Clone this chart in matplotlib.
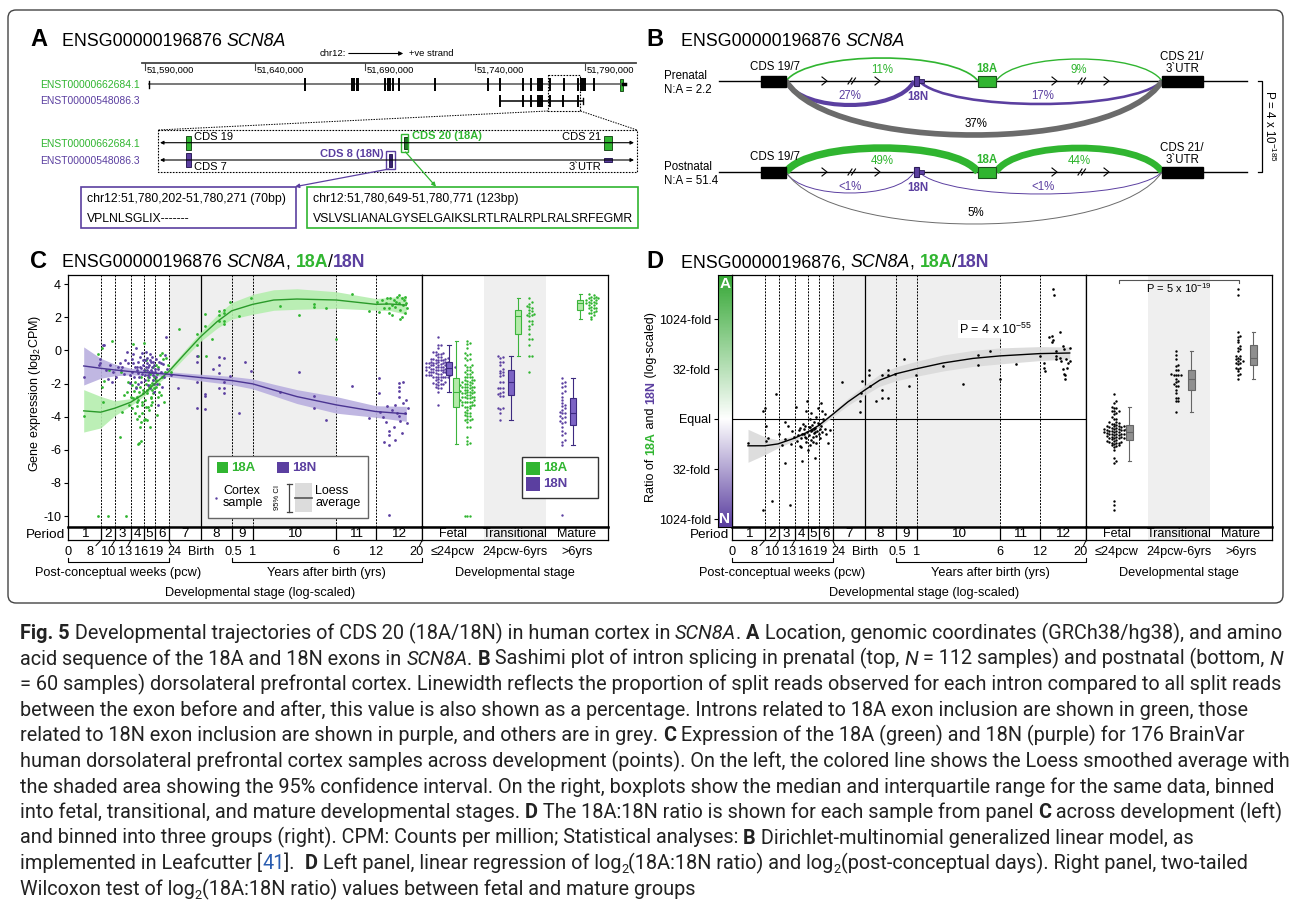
import numpy as np
import matplotlib
matplotlib.use('Agg')
import matplotlib.pyplot as plt
from matplotlib.patches import Rectangle, FancyBboxPatch, PathPatch
from matplotlib.path import Path
from matplotlib.colors import LinearSegmentedColormap, TwoSlopeNorm
from matplotlib.transforms import blended_transform_factory as blend

plt.rcParams['font.family'] = ['Liberation Sans', 'DejaVu Sans']
plt.rcParams['mathtext.fontset'] = 'custom'
plt.rcParams['mathtext.rm'] = 'Liberation Sans'
plt.rcParams['mathtext.it'] = 'Liberation Sans:italic'
plt.rcParams['mathtext.bf'] = 'Liberation Sans:bold'
CAPTION_FONT = ['Liberation Sans Narrow', 'Roboto', 'DejaVu Sans']

W, H = 1290, 908
GREEN = '#30b530'
GREEN_DK = '#23782a'
GREEN_BOX = '#b4eaa9'
PURPLE = '#5b3fa0'
PURPLE_BOX = '#7c64c4'
GREY_ARC = '#6b6b6b'
SHADE = '#efefef'

# ---------------- data ----------------
gene_id = 'ENSG00000196876'
gene = 'SCN8A'
tx_names = ['ENST00000662684.1', 'ENST00000548086.3']

# panel A, chr12 positions (bp)
ruler_ticks = [51590000, 51640000, 51690000, 51740000, 51790000]
tx1_exons = [51662700, 51684100, 51685000, 51686400, 51686800, 51699100, 51700500,
             51701400, 51702700, 51705500, 51721800, 51745900, 51751400, 51761800,
             51765500, 51768600, 51769500, 51770500, 51774100, 51780650, 51786800,
             51788200, 51789100, 51790000, 51794100]
tx1_span = (51591800, 51806300)
tx1_last_exon = (51805800, 51807300)
tx2_exons = [51751400, 51761800, 51765500, 51768600, 51769500, 51770500, 51774100,
             51780200, 51786800]
tx2_span = (51751400, 51789000)
zoom_range = (51773200, 51787700)
cds19 = (51774050, 51774200)
exon_18A = (51780649, 51780771)
exon_18N = (51780202, 51780271)
cds21 = (51786700, 51786950)
seq_18N = ['chr12:51,780,202-51,780,271 (70bp)', 'VPLNLSGLIX-------']
seq_18A = ['chr12:51,780,649-51,780,771 (123bp)', 'VSLVSLIANALGYSELGAIKSLRTLRALRPLRALSRFEGMR']

# panel B, % of split reads per intron: 19-18A, 18A-21, 19-18N, 18N-21, 19-21
prenatal_pct = [11, 9, 27, 17, 37]
prenatal_lbl = ['11%', '9%', '27%', '17%', '37%']
postnatal_pct = [49, 44, 0.5, 0.5, 5]
postnatal_lbl = ['49%', '44%', '<1%', '<1%', '5%']
na_ratio = ['2.2', '51.4']

# developmental axis (log-scaled stage units)
period_edges = [0, 32.7, 46.7, 62.7, 75.7, 86.7, 100.7, 132.7, 163.7, 184.7, 268.3, 307.7, 354]
periods = [str(i) for i in range(1, 13)]
age_tick_pos = [0, 22.3, 40, 56.7, 73, 88, 106.3, 132.7, 165.7, 184.7, 267.7, 308.3, 348.7]
age_tick_lbl = ['0', '8', '10', '13', '16', '19', '24', 'Birth', '0.5', '1', '6', '12', '20']
stages = ['Fetal', 'Transitional', 'Mature']
stage_spans = ['\u226424pcw', '24pcw-6yrs', '>6yrs']

# panel C, 18A expression (log2 CPM)
ageA = [16, 30, 30.3, 33.6, 34, 34.6, 36.3, 40, 43.6, 41,
        53, 52, 53.6, 57.7, 58.6, 61.3, 56, 60,
        62.6, 64.6, 66, 67, 68.6, 68.6, 70, 69.3, 71, 71.6, 71.3, 70.3, 73.3, 73.6, 74.3, 74.6,
        75, 64, 66.5, 72, 65, 73, 67.5, 69, 72.5, 70.5, 63.5, 74,
        75.9, 76, 77, 79, 78, 80.3, 82, 83, 83.6, 84.3, 85.3, 86, 76.5, 77.5, 78.5, 79.5, 80.5,
        81.5, 82.5, 84, 85, 78, 81, 86, 77, 79, 80, 82, 83, 84.8,
        88.6, 89.6, 92, 93.6, 92.6, 96, 98, 87.5, 88, 89, 90, 91, 94, 97, 88, 95, 99.5, 90.5,
        103, 110.7, 128.5, 128.5, 129.5,
        137.3, 137.3, 137.6, 144.3, 151, 151, 151, 156, 156, 156, 156, 162,
        171, 183, 211.7, 231, 246, 246, 258, 267.7,
        284, 301,
        309, 310.7, 314, 315.7, 318.3, 320.7, 320.7, 322.3, 324, 324, 325.7, 327.3, 328.3, 329,
        330.7, 330.7, 331.7, 332.3, 334, 335, 335.7, 336.7, 337.3, 338.3, 339, 334, 319]
exprA = [-3.95, -10, -0.22, 0.12, -2.18, -3.09, -1.82, -10, 0.59, -1.2,
         -1.32, -5.2, -3.69, -10, -2.54, -3.29, -2.7, -1.9,
         -2.83, 0.39, -2.48, -3.79, -3.35, -2.79, -2.99, -4.15, -3.99, -4.6, -5.6, -5.64, -5.44,
         -3.29, -3.09, -2.59, -2.39, -3.5, -1.9, -2.2, -2.9, -4.3, -2.2, -3.1, -1.6, -2.5, -2.1, -3.8,
         0.47, -4.2, -4.15, -4.2, -3.4, -3.4, -4.63, -2.9, -2.39, -1.99, -1.79, -1.59, -1.2, -2.0,
         -2.6, -1.6, -2.2, -1.4, -2.8, -3.1, -1.0, -0.6, -3.6, -2.3, -3.0, -2.4, -1.8, -2.1, -3.3, -2.6,
         -3.89, -2.79, -0.28, -0.18, -2.71, -3.09, -0.48, -1.8, -2.2, -1.4, -1.0, -2.0, -1.6, -1.3,
         -0.9, -0.5, -0.9, -2.5,
         -1.3, 1.29, 0.99, 0.3, -0.35,
         2.19, 1.47, -0.32, 0.67, 2.35, 2.15, 1.75, 2.45, 2.25, 1.75, 1.6, 2.94,
         2.07, 3.14, 2.67, 2.13, 2.8, 2.6, 2.55, 0.67,
         3.38, 2.37,
         2.94, 2.33, 3.04, 2.53, 2.84, 2.53, 2.23, 3.14, 2.13, 2.73, 3.04, 2.63, 2.94, 3.24,
         2.84, 3.34, 1.87, 2.43, 3.14, 2.73, 3.04, 2.23, 3.24, 2.84, 2.53, 2.03, 3.14]

# panel C, 18N expression (log2 CPM)
ageN = [16, 31, 31.5, 32.3,
        35.3, 36.3, 40.3, 43.6, 38, 42, 45,
        52, 53.6, 53, 58.6, 60.3, 62, 62, 56, 50, 48, 57,
        65.3, 67, 67.6, 68.6, 69.6, 70.3, 71, 72, 73, 73.6, 75, 74.6, 66, 70, 72.5, 64, 63.5, 68,
        71.5, 74, 65, 69,
        76, 76.6, 77, 78.6, 79, 80, 80.6, 81.3, 82.3, 83, 83.6, 84.3, 85.3, 86.3, 86.6, 84.5,
        77.5, 79.5, 81.6, 85.6, 78, 82, 77, 80, 83, 85, 79, 81, 84, 86,
        87.3, 88.3, 90.3, 91, 92.6, 95.3, 98, 89, 93, 96, 99, 88, 94, 90, 97,
        103, 110.3, 128.6, 128.6, 129, 129,
        137.3, 137.3, 137.3, 144.6, 151, 156, 151, 151, 156, 156, 151, 156, 162.3,
        171.3, 177, 183, 212, 231, 246, 246, 258,
        284, 301,
        311, 311, 319, 320.7, 320.7, 315.7, 320.7, 327, 320.7, 331, 331, 331, 331, 335, 338, 331,
        329, 324, 332, 327, 335, 337, 312, 315, 340, 318, 326, 334, 339]
exprN = [-1.58, -0.9, -0.77, -0.54,
         0.33, 0.3, -1.74, -1.92, -1.2, -0.9, -1.3,
         -0.78, -0.98, -1.18, -0.08, -0.74, -1.48, -1.98, -1.4, -1.0, -1.6, -0.6,
         -0.77, -0.98, 0.16, -1.18, -0.68, -1.38, -1.58, -0.38, -1.08, -0.18, -0.58, -0.88, -1.6,
         -2.0, -1.9, -1.3, -0.5, -2.3, -1.0, -1.4, -0.2, -1.0,
         -1.18, -1.48, -1.78, -0.48, -0.78, -1.03, -1.28, -1.58, -0.58, -0.73, -0.98, -1.33, -0.68,
         -0.88, -1.12, -1.8, -1.0, -2.1, -2.3, -2.0, -0.1, -0.2, -0.6, -1.5, -1.2, -1.5, -1.2, -0.9,
         -0.4, -2.5,
         -1.28, -1.58, -3.27, -0.7, -0.78, -0.8, 0.79, -2.0, -1.3, -1.6, -1.1, -0.5, -2.2, -1.1, -0.3,
         -1.5, -2.28, -0.34, -0.72, -1.88, -3.49,
         -2.63, -2.75, -3.53, -1.12, -0.38, -0.48, -0.88, -1.38, -1.88, -2.29, -2.29, -2.55, -1.54,
         -3.79, -0.68, -1.22, -2.53, -1.28, -2.73, -3.49, -4.19,
         -2.12, -4.09,
         -1.68, -2.55, -3.35, -4.84, -5.1, -5.5, -5.7, -5.4, -9.94, -1.98, -2.18, -2.48, -2.79,
         -1.88, -2.99, -3.99, -3.8, -3.59, -4.29, -3.29, -3.19, -3.79, -3.7, -4.0, -3.5, -4.3,
         -4.6, -5.0, -4.4]

# panel C loess fits (value, 95% CI half-width)
loessA_x = [15.7, 32.7, 46.7, 62.7, 75.7, 86.7, 100.7, 115.7, 132.7, 149, 163.7, 184.7, 205.7,
            229, 268.3, 307.7, 322, 338.3]
loessA_y = [-3.65, -3.73, -3.49, -3.13, -2.63, -2.02, -1.28, -0.28, 0.83, 1.73, 2.39, 2.78,
            3.04, 3.10, 3.04, 2.78, 2.80, 2.73]
loessA_ci = [1.28, 0.95, 0.45, 0.22, 0.15, 0.15, 0.18, 0.22, 0.28, 0.4, 0.5, 0.6, 0.62, 0.62,
             0.5, 0.35, 0.4, 0.55]
loessN_x = [15.7, 32.7, 46.7, 62.7, 86.7, 100.7, 132.7, 163.7, 184.7, 205.7, 229, 268.3,
            307.7, 338.3]
loessN_y = [-0.94, -1.08, -1.18, -1.28, -1.38, -1.44, -1.64, -1.82, -2.02, -2.39, -2.79,
            -3.29, -3.69, -3.83]
loessN_ci = [1.15, 0.6, 0.35, 0.2, 0.15, 0.15, 0.2, 0.25, 0.3, 0.35, 0.42, 0.5, 0.35, 0.45]

# panel D, log2(18A:18N)
ageR = [16, 31, 32.7, 33.7, 34.3, 36, 31, 40, 43.7, 47, 50, 52.7, 53.3, 52.7, 56, 57.7, 59.3, 60, 62,
        64.3, 64.5, 66, 67, 67.7, 68, 69, 69.3, 70, 70.3, 71, 71.7, 72, 72.7, 73, 73.7, 74, 74.3,
        75, 75.3,
        76, 76.5, 77, 77.7, 78, 78.3, 78.5, 79, 79.3, 80, 80.3, 80.5, 81, 81.5, 81.7, 82, 82.7, 83,
        83.3, 83.7, 84, 84.3, 85, 85.5, 86, 86.5,
        87, 87.7, 88, 89, 89.3, 90, 90.3, 91, 92.7, 92.7, 94.3, 96, 97.7,
        110.3, 127.7, 128.3, 129.3, 130, 137, 137, 137.7, 144.3, 150.3, 150.3, 150.3, 156, 156, 156,
        162.7, 171.7, 176.7, 183.7, 211, 231, 246, 246, 257.7, 267.7,
        283.7, 307.7, 311.7, 311.7, 312.7, 317, 320.3, 321, 320.3, 321, 322, 323.7, 324.3, 324.3,
        327.7, 328.3, 329.3, 331, 331.7, 331, 331.7, 332.7, 332.7, 334.3, 335.3, 336, 337.7, 337.7]
ratio = [-2.36, 0.81, 1.07, -0.74, -2.16, -1.94, -9.1, -8.2, 2.46, -1.5, -2.6, -0.32, -2.04, -4.37,
         -0.7, -8.6, -2.49, -1.2, -1.8,
         1.2, -2.2, -1.6, -1.07, -2.68, -0.9, -1.9, -2.81, -1.5, -4.21, -0.49, -1.46, -1.0, -1.78,
         -0.7, -2.27, -1.9, 0.81, -1.3, 1.78,
         -3.07, -0.8, -1.6, -0.01, -2.6, -0.82, -2.1, -1.2, 0.64, -0.6, -1.14, -2.3, -1.78, -1.0,
         -0.33, -1.4, -3.88, -0.9, -1.3, -2.36, -1.7, 0.16, -1.2, -0.4, 1.13, -1.5,
         -0.49, -0.97, -1.9, -0.7, 1.62, -1.3, 0.81, 0.0, 0.49, -0.97, -1.46, -2.36, -1.13,
         3.66, 0.75, 1.78, 2.59, 3.79, 4.95, 4.37, 3.33, 1.85, 4.4, 2.94, 2.1, 4.95, 4.37, 2.1,
         4.53, 5.99, 3.33, 4.43, 5.27, 3.49, 6.38, 5.44, 6.84, 3.98,
         5.53, 6.31, 5.6, 5.08, 4.76, 8.25, 8.32, 7.93, 7.67, 13.0, 12.36, 6.8, 6.31, 5.99, 8.74,
         6.15, 5.83, 7.28, 6.96, 5.02, 4.53, 4.37, 4.05, 5.99, 5.11, 5.6, 7.12, 5.83]
loessR_x = [16, 32.7, 46, 62.7, 76, 86.7, 101, 116, 133, 147.7, 164.3, 184.3, 211, 241, 268,
            307.7, 337.7]
loessR_y = [-2.68, -2.68, -2.49, -1.91, -1.29, -0.65, 0.49, 1.72, 2.91, 3.88, 4.53, 5.02, 5.6,
            6.06, 6.31, 6.54, 6.6]
loessR_ci = [1.65, 0.9, 0.4, 0.25, 0.2, 0.2, 0.25, 0.35, 0.5, 0.6, 0.7, 0.75, 0.8, 0.8, 0.8,
             0.7, 0.6]

# ---------------- figure ----------------
fig = plt.figure(figsize=(W / 100, H / 100), dpi=100)
R = fig.canvas.get_renderer()


def ax_at(x0, y0, x1, y1, **kw):
    return fig.add_axes([x0 / W, 1 - y1 / H, (x1 - x0) / W, (y1 - y0) / H], **kw)


ov = fig.add_axes([0, 0, 1, 1], zorder=10)
ov.set_xlim(0, W)
ov.set_ylim(H, 0)
ov.axis('off')


def measure(s, **st):
    t1 = ov.text(0, 0, '|' + s + '|', **st)
    t2 = ov.text(0, 0, '||', **st)
    w = t1.get_window_extent(R).width - t2.get_window_extent(R).width
    t1.remove()
    t2.remove()
    return w


def runs(x, y, parts, rot=0, align='left', **base):
    styles = []
    for s, st in parts:
        st = dict(st)
        dy = st.pop('dy', 0)
        styles.append((s, {**base, **st}, dy))
    widths = [measure(s, **st) for s, st, _ in styles]
    total = sum(widths)
    shift = {'left': 0, 'center': total / 2, 'right': total}[align]
    pos = -shift
    for (s, st, dy), w in zip(styles, widths):
        if rot == 0:
            tx, ty = x + pos, y + dy
        else:
            tx, ty = x + dy, y - pos
        ov.text(tx, ty, s, rotation=rot, rotation_mode='anchor', ha='left', va='baseline', **st)
        pos += w


IT = {'style': 'italic'}
BG = {'weight': 'bold', 'color': GREEN}
BP = {'weight': 'bold', 'color': PURPLE}

# outer frame
ov.add_patch(FancyBboxPatch((8, 10), 1275, 593, boxstyle='round,pad=0,rounding_size=8',
                            fc='none', ec='#444444', lw=1))

# panel letters and titles
for letter, x, y in [('A', 30, 46.5), ('B', 646, 46.5), ('C', 30, 267.5), ('D', 646, 267.5)]:
    ov.text(x, y, letter, fontsize=17, weight='bold', va='baseline')
runs(62, 46, [(gene_id + ' ', {}), (gene, IT)], fontsize=12.8)
runs(681, 46, [(gene_id + ' ', {}), (gene, IT)], fontsize=12.8)
runs(62, 267, [(gene_id + ' ', {}), (gene, IT), (', ', {}), ('18A', BG), ('/', {}), ('18N', BP)],
     fontsize=12.8)
runs(681, 267, [(gene_id + ', ', {}), (gene, IT), (', ', {}), ('18A', BG), ('/', {}), ('18N', BP)],
     fontsize=12.8)

# ---------------- panel A ----------------
BP_PX = 50000 / 110
axA = ax_at(40, 40, 640, 125)
axA.set_xlim(ruler_ticks[0] - 105 * BP_PX, ruler_ticks[0] + 495 * BP_PX)
axA.set_ylim(125, 40)
axA.axis('off')
axA.plot([ruler_ticks[0] - 3 * BP_PX, ruler_ticks[-1] + 51 * BP_PX], [63.3, 63.3], color='#444444', lw=1.3)
for t in ruler_ticks:
    axA.plot([t, t], [63.3, 69.5], color='#444444', lw=0.8)
    axA.text(t + 2 * BP_PX, 72.5, f'{t:,}', fontsize=6.8, va='baseline')
ov.text(320, 53.5, 'chr12:', fontsize=6.8, va='center')
ov.annotate('', xy=(406, 53.5), xytext=(346, 53.5),
            arrowprops=dict(arrowstyle='-|>', color='k', lw=0.8, mutation_scale=6))
ov.text(409, 53.5, '+ve strand', fontsize=6.8, va='center')
ov.text(40, 84.5, tx_names[0], color=GREEN, fontsize=7.5, va='center')
ov.text(40, 101, tx_names[1], color=PURPLE, fontsize=7.5, va='center')

axA.plot(tx1_span, [84.3, 84.3], color='#555555', lw=1.1)
axA.plot([tx1_span[0]] * 2, [81, 88], color='k', lw=1)
axA.vlines(tx1_exons, 78.3, 91.3, color='k', lw=1.4)
axA.add_patch(Rectangle((tx1_last_exon[0], 78.5), tx1_last_exon[1] - tx1_last_exon[0], 12.5,
                        fc=GREEN, ec='#1d4f1d', lw=0.7))
axA.plot([tx1_last_exon[1], tx1_last_exon[1] + 2 * BP_PX], [84.3, 84.3], color='k', lw=2.5)
axA.plot(tx2_span, [100.7, 100.7], color='k', lw=1.1)
axA.vlines(tx2_exons, 95, 107, color='k', lw=1.4)
axA.plot([tx2_span[1]] * 2, [98, 103.5], color='k', lw=1)
axA.add_patch(Rectangle((zoom_range[0], 75), zoom_range[1] - zoom_range[0], 36, fc='none',
                        ec='k', lw=0.8, ls=(0, (1.5, 1.2))))

# zoomed view
ZL, ZR, ZT, ZB = 158, 637, 130, 172
ov.add_patch(Rectangle((ZL, ZT), ZR - ZL, ZB - ZT, fc='none', ec='k', lw=0.8, ls=(0, (1.5, 1.2))))
ov.plot([548, ZL], [111, ZT], color='k', lw=0.7, ls=(0, (1.5, 1.2)))
ov.plot([580.5, ZR], [111, ZT], color='k', lw=0.7, ls=(0, (1.5, 1.2)))
axZ = ax_at(ZL, ZT, ZR, ZB)
axZ.set_xlim(*zoom_range)
axZ.set_ylim(ZB, ZT)
axZ.axis('off')
for yy in (142.7, 160):
    ov.annotate('', xy=(634, yy), xytext=(160, yy),
                arrowprops=dict(arrowstyle='<|-|>', color='k', lw=0.8, mutation_scale=5,
                                shrinkA=0, shrinkB=0))
ov.text(40, 144, tx_names[0], color=GREEN, fontsize=7.5, va='center')
ov.text(40, 161.5, tx_names[1], color=PURPLE, fontsize=7.5, va='center')


def zexon(span, y0, y1, fc, ec):
    axZ.add_patch(Rectangle((span[0], y0), span[1] - span[0], y1 - y0, fc=fc, ec=ec, lw=0.7, zorder=3))


zexon(cds19, 135.7, 150, GREEN, '#1d4f1d')
zexon(cds21, 135.7, 150, GREEN, '#1d4f1d')
zexon(exon_18A, 136.5, 149, GREEN_DK, '#123d12')
zexon(cds19, 152.7, 167.3, PURPLE, '#2d1d5a')
zexon(exon_18N, 153.5, 166.5, '#3a2470', '#2d1d5a')
zexon(cds21, 157.7, 162.3, PURPLE, '#2d1d5a')
ov.add_patch(Rectangle((400.8, 133.5), 7.5, 18.5, fc='none', ec=GREEN, lw=1))
ov.add_patch(Rectangle((385.7, 151), 9.1, 18, fc='none', ec=PURPLE, lw=1))
ov.text(193.5, 136.7, 'CDS 19', fontsize=8, va='center')
ov.text(193.5, 166.7, 'CDS 7', fontsize=8, va='center')
ov.text(411.5, 135.7, 'CDS 20 (18A)', fontsize=8, va='center', **BG)
ov.text(383.5, 154.3, 'CDS 8 (18N)', fontsize=8, va='center', ha='right', **BP)
ov.text(601, 136.7, 'CDS 21', fontsize=8, va='center', ha='right')
ov.text(601, 166.7, '3`UTR', fontsize=8, va='center', ha='right')
ov.annotate('', xy=(295, 186.7), xytext=(389, 169),
            arrowprops=dict(arrowstyle='-|>', color=PURPLE, lw=0.9, mutation_scale=6, shrinkA=0, shrinkB=0))
ov.annotate('', xy=(436, 186.7), xytext=(405.5, 152),
            arrowprops=dict(arrowstyle='-|>', color=GREEN, lw=0.9, mutation_scale=6, shrinkA=0, shrinkB=0))
for (x0, x1), col, lines in [((81, 296), PURPLE, seq_18N), ((307, 638), GREEN, seq_18A)]:
    ov.add_patch(Rectangle((x0, 186.7), x1 - x0, 41.6, fc='white', ec=col, lw=1.2))
    ov.text(x0 + 6, 199, lines[0], fontsize=8.8, va='center')
    ov.text(x0 + 6, 219, lines[1], fontsize=8.8, va='center')

# ---------------- panel B ----------------
B_X0, B_X1 = 719, 1247
E19, E18N, E18A, E21 = (761, 786), (914, 919), (978, 996), (1162, 1203)


def arc(x0, x1, y, h, color, lw):
    k = 4 / 3 * h
    d = 0.12 * (x1 - x0)
    verts = [(x0, y), (x0 + d, y + k), (x1 - d, y + k), (x1, y)]
    ov.add_patch(PathPatch(Path(verts, [Path.MOVETO, Path.CURVE4, Path.CURVE4, Path.CURVE4]),
                           fc='none', ec=color, lw=lw, capstyle='butt', zorder=2))


def chevron(x, y):
    ov.plot([x - 3, x + 2, x - 3], [y - 4, y, y + 4], color='k', lw=0.8, zorder=3)


def breakmark(x, y):
    for dx in (-2, 1.5):
        ov.plot([x + dx - 2, x + dx + 2], [y + 3, y - 3], color='k', lw=0.8, zorder=3)


for y, pct, lbl, state, na, hs in [
        (81, prenatal_pct, prenatal_lbl, 'Prenatal', na_ratio[0], (23, 22, 24, 23, 54)),
        (172, postnatal_pct, postnatal_lbl, 'Postnatal', na_ratio[1], (24, 24, 21, 22, 52))]:
    ov.text(664, y - 2, state, fontsize=8.3, va='baseline')
    ov.text(664, y + 12, 'N:A = ' + na, fontsize=8.3, va='baseline')
    ov.plot([B_X0, B_X1], [y, y], color='k', lw=1, zorder=1)
    lws = [max(0.7, p * 0.11) for p in pct]
    arc(E19[1], E18A[0], y, -hs[0], GREEN, lws[0])
    arc(E18A[1], E21[0], y, -hs[1], GREEN, lws[1])
    arc(E19[1], E18N[0], y, hs[2], PURPLE, lws[2])
    arc(E18N[1], E21[0], y, hs[3], PURPLE, lws[3])
    arc(E19[1], E21[0], y, hs[4], GREY_ARC, lws[4])
    for x in (825, 878, 1055, 1107):
        chevron(x, y)
    breakmark(852, y)
    breakmark(1082, y)
    ov.add_patch(Rectangle((E19[0], y - 5.5), E19[1] - E19[0], 11, fc='k', ec='k', zorder=4))
    ov.add_patch(Rectangle((E21[0], y - 5.5), E21[1] - E21[0], 11, fc='k', ec='k', zorder=4))
    ov.add_patch(Rectangle((E18A[0], y - 5.5), E18A[1] - E18A[0], 11, fc=GREEN, ec='#1d4f1d', lw=0.8, zorder=4))
    ov.add_patch(Rectangle((E18N[0], y - 5), E18N[1] - E18N[0], 10, fc=PURPLE, ec='#2d1d5a', lw=0.8, zorder=4))
    ov.add_patch(Rectangle((E18N[1], y - 2), 5, 4, fc=PURPLE, ec='#2d1d5a', lw=0.6, zorder=4))
    ov.text(775, y - 11.5, 'CDS 19/7', fontsize=8.3, ha='center', va='baseline')
    ov.text(1182, y - 21, 'CDS 21/', fontsize=8.3, ha='center', va='baseline')
    ov.text(1182, y - 8.7, '3`UTR', fontsize=8.3, ha='center', va='baseline')
    ov.text(987, y - 9, '18A', fontsize=8.3, ha='center', va='baseline', **BG)
    ov.text(918, y + 19, '18N', fontsize=8.3, ha='center', va='baseline', **BP)
    ov.text(882, y - 8, lbl[0], fontsize=8.3, ha='center', va='baseline', color=GREEN)
    ov.text(1079, y - 8, lbl[1], fontsize=8.3, ha='center', va='baseline', color=GREEN)
    ov.text(850, y + 18, lbl[2], fontsize=8.3, ha='center', va='baseline', color=PURPLE)
    ov.text(1043, y + 18, lbl[3], fontsize=8.3, ha='center', va='baseline', color=PURPLE)
    ov.text(976, y + hs[4] - 8, lbl[4], fontsize=8.3, ha='center', va='baseline')
ov.plot([1257.5, 1262.3, 1262.3, 1257.5], [81, 81, 172, 172], color='k', lw=0.9)
ov.text(1270, 126.5, r'P = 4 x 10$^{-185}$', rotation=-90, fontsize=8.3, ha='center', va='center')


# ---------------- panels C and D: shared developmental layout ----------------
def swarm(vals, center, upx, xpx, d=2.4):
    vals = np.asarray(vals, float)
    xs = np.empty(len(vals))
    placed = []
    for i in np.argsort(vals):
        y = vals[i] * upx
        for k in range(300):
            off = ((k + 1) // 2) * d * (1 if k % 2 else -1)
            if all((off - a) ** 2 + (y - b) ** 2 >= d * d for a, b in placed):
                break
        placed.append((off, y))
        xs[i] = center + off / xpx
    return xs


def bin_stage(age, vals):
    age = np.asarray(age)
    vals = np.asarray(vals)
    return [vals[age <= period_edges[6]],
            vals[(age > period_edges[6]) & (age <= period_edges[10])],
            vals[age > period_edges[10]]]


def stage_panel(dx, ylim):
    ax = ax_at(68 + dx, 275, 422 + dx, 527)
    axb = ax_at(422 + dx, 275, 608 + dx, 527)
    band = ax_at(68 + dx, 527, 422 + dx, 540)
    bandb = ax_at(422 + dx, 527, 608 + dx, 540)
    for a in (ax, axb, band, bandb):
        for sp in a.spines.values():
            sp.set_linewidth(0.9)
        a.set_xticks([])
    ax.set_xlim(0, period_edges[-1])
    ax.set_ylim(*ylim)
    axb.set_xlim(0, 3)
    axb.set_ylim(*ylim)
    axb.set_yticks([])
    ax.axvspan(period_edges[6], period_edges[10], color=SHADE, lw=0, zorder=0)
    axb.axvspan(1, 2, color=SHADE, lw=0, zorder=0)
    for e in period_edges[1:-1]:
        if e == period_edges[7]:
            ax.axvline(e, color='k', lw=0.9, zorder=1)
        else:
            ax.axvline(e, color='k', lw=0.7, ls=(0, (2, 1.3)), zorder=1)
    band.set_xlim(0, period_edges[-1])
    band.set_ylim(0, 1)
    band.set_yticks([])
    band.spines['top'].set_linewidth(1.8)
    for e in period_edges[1:-1]:
        band.axvline(e, color='k', lw=0.9)
    for i, p in enumerate(periods):
        band.text((period_edges[i] + period_edges[i + 1]) / 2, 0.45, p, ha='center', va='center',
                  fontsize=9.7)
    bandb.set_xlim(0, 3)
    bandb.set_ylim(0, 1)
    bandb.set_yticks([])
    bandb.spines['top'].set_linewidth(1.8)
    bandb.axvspan(1, 2, color=SHADE, lw=0)
    for i, s in enumerate(stages):
        bandb.text(i + 0.5, 0.45, s, ha='center', va='center', fontsize=9)
    ov.text(65 + dx, 534.5, 'Period', ha='right', va='center', fontsize=9.7)

    tr = blend(ax.transData, ov.transData)
    for pos, lbl, e in zip(age_tick_pos, age_tick_lbl, period_edges):
        ov.text(pos, 551.7, lbl, transform=tr, ha='center', va='center', fontsize=9.2)
        if abs(pos - e) > 3:
            ov.plot([e, e + 0.45 * (pos - e)], [540.5, 545.5], transform=tr, color='k', lw=0.7)
    for a0, a1, lbl in [(period_edges[0], period_edges[6], 'Post-conceptual weeks (pcw)'),
                        (period_edges[8], period_edges[12], 'Years after birth (yrs)')]:
        ov.plot([a0, a0, a1, a1], [557.5, 561.7, 561.7, 557.5], transform=tr, color='k', lw=0.8)
        ov.text((a0 + a1) / 2, 572.7, lbl, transform=tr, ha='center', va='center', fontsize=9.2)
    ov.text(192, 592.7, 'Developmental stage (log-scaled)', transform=tr, ha='center',
            va='center', fontsize=9.2)
    trb = blend(axb.transData, ov.transData)
    for i, s in enumerate(stage_spans):
        ov.text(i + 0.5, 551.7, s, transform=trb, ha='center', va='center', fontsize=9.2)
    ov.text(1.5, 572.7, 'Developmental stage', transform=trb, ha='center', va='center', fontsize=9.2)
    return ax, axb


def draw_boxes(axb, groups, pos, face, edge, width):
    axb.boxplot(groups, positions=pos, widths=width, showfliers=False, patch_artist=True,
                manage_ticks=False,
                boxprops=dict(facecolor=face, edgecolor=edge, lw=0.8),
                medianprops=dict(color=edge, lw=0.8),
                whiskerprops=dict(color=edge, lw=0.8),
                capprops=dict(color=edge, lw=0.8), zorder=3)


# ---------------- panel C ----------------
C_YLIM = (-10.66, 4.55)
C_UPX = 252 / (C_YLIM[1] - C_YLIM[0])
axC, axCb = stage_panel(0, C_YLIM)
axC.set_yticks(range(-10, 5, 2))
axC.set_yticklabels([str(v) for v in range(-10, 5, 2)])
axC.tick_params(axis='y', length=3, width=0.8, labelsize=9, pad=2)
ov.text(35, 393, r'Gene expression (log$_2$CPM)', rotation=90, ha='center', va='center', fontsize=9)

for lx, ly, lc, col, band_col in [(loessA_x, loessA_y, loessA_ci, '#2a9a2a', '#b5eeae'),
                                  (loessN_x, loessN_y, loessN_ci, '#4b3592', '#b9afdf')]:
    ly = np.array(ly)
    lc = np.array(lc)
    axC.fill_between(lx, ly - lc, ly + lc, color=band_col, lw=0, alpha=0.9, zorder=2)
    axC.plot(lx, ly, color=col, lw=1, zorder=4)
axC.scatter(ageA, exprA, s=4, color=GREEN, lw=0, zorder=3)
axC.scatter(ageN, exprN, s=4, color=PURPLE, lw=0, zorder=3)

groupsA = bin_stage(ageA, exprA)
groupsN = bin_stage(ageN, exprN)
for i in range(3):
    c = i + 0.5
    axCb.scatter(swarm(groupsN[i], c - 0.24, C_UPX, 62), groupsN[i], s=3, color=PURPLE, lw=0, zorder=2)
    axCb.scatter(swarm(groupsA[i], c + 0.23, C_UPX, 62), groupsA[i], s=3, color=GREEN, lw=0, zorder=2)
draw_boxes(axCb, groupsN, [i + 0.5 - 0.065 for i in range(3)], PURPLE_BOX, '#3d2a80', 0.1)
draw_boxes(axCb, groupsA, [i + 0.55 for i in range(3)], GREEN_BOX, '#3cb43c', 0.1)

# legends (panel C)
ov.add_patch(Rectangle((208, 455.7), 160, 62.3, fc='white', ec='#666666', lw=1))
ov.add_patch(Rectangle((216.7, 461.7), 11.6, 11.6, fc=GREEN, lw=0))
ov.text(231, 467.8, '18A', va='center', fontsize=9.5, **BG)
ov.add_patch(Rectangle((276.7, 461.7), 12.6, 11.6, fc=PURPLE, lw=0))
ov.text(292, 467.8, '18N', va='center', fontsize=9.5, **BP)
ov.scatter([216], [497.7], s=3, color=PURPLE, lw=0)
ov.text(223, 491, 'Cortex', va='center', fontsize=9)
ov.text(223, 503, 'sample', va='center', fontsize=9)
ov.text(277.5, 497.7, '95% CI', rotation=90, ha='center', va='center', fontsize=5.5)
ov.plot([289, 289], [484, 512], color='#444444', lw=0.9)
ov.plot([286.5, 291.5], [484, 484], color='#444444', lw=0.9)
ov.plot([286.5, 291.5], [512, 512], color='#444444', lw=0.9)
ov.add_patch(Rectangle((295, 483), 17, 29, fc='#dcdcdc', lw=0))
ov.plot([295, 312], [497.7, 497.7], color='#555555', lw=1.2)
ov.text(315, 491, 'Loess', va='center', fontsize=9)
ov.text(315, 503, 'average', va='center', fontsize=9)

ov.add_patch(Rectangle((521.7, 456.7), 76.6, 41, fc='white', ec='#333333', lw=1))
ov.add_patch(Rectangle((526, 461.7), 14, 13.3, fc=GREEN, lw=0))
ov.add_patch(Rectangle((526, 476.7), 14, 14, fc=PURPLE, lw=0))
ov.text(543, 468.3, '18A', va='center', fontsize=9.5, **BG)
ov.text(543, 483.7, '18N', va='center', fontsize=9.5, **BP)

# ---------------- panel D ----------------
D_YLIM = (-10.8, 14.4)
D_UPX = 252 / (D_YLIM[1] - D_YLIM[0])
axD, axDb = stage_panel(664, D_YLIM)
axD.set_yticks([])
axD.axhline(0, color='k', lw=0.8, zorder=2)
ly = np.array(loessR_y)
lc = np.array(loessR_ci)
axD.fill_between(loessR_x, ly - lc, ly + lc, color='#dadada', lw=0, alpha=0.9, zorder=2)
axD.plot(loessR_x, ly, color='k', lw=1, zorder=4)
axD.scatter(ageR, ratio, s=3.5, color='k', lw=0, zorder=3)
axD.text(227, 9.0, r'P = 4 x 10$^{-55}$', fontsize=9, va='center', zorder=5,
         bbox=dict(fc='white', ec='none', pad=1))

axCB = ax_at(718, 275, 732, 527)
cmap = LinearSegmentedColormap.from_list('an', [(0, PURPLE), (0.5, '#ffffff'), (1, '#36a836')])
grad = np.linspace(D_YLIM[0], D_YLIM[1], 300)[:, None]
axCB.imshow(grad, origin='lower', extent=(0, 1, D_YLIM[0], D_YLIM[1]), aspect='auto', cmap=cmap,
            norm=TwoSlopeNorm(0, D_YLIM[0], D_YLIM[1]))
axCB.set_xlim(0, 1)
axCB.set_ylim(*D_YLIM)
axCB.set_xticks([])
axCB.set_yticks([10, 5, 0, -5, -10])
axCB.set_yticklabels(['1024-fold', '32-fold', 'Equal', '32-fold', '1024-fold'])
axCB.tick_params(axis='y', length=3, width=0.8, labelsize=9, pad=2)
for sp in axCB.spines.values():
    sp.set_linewidth(0.8)
axCB.text(0.5, 13.5, 'A', color='white', weight='bold', ha='center', va='center', fontsize=11)
axCB.text(0.5, -10.0, 'N', color='white', weight='bold', ha='center', va='center', fontsize=11)
runs(654, 407, [('Ratio of ', {}), ('18A', BG), (' and ', {}), ('18N', BP), (' (log-scaled)', {})],
     rot=90, align='center', fontsize=9)

groupsR = bin_stage(ageR, ratio)
for i in range(3):
    c = i + 0.5
    axDb.scatter(swarm(groupsR[i], c - 0.05, D_UPX, 62), groupsR[i], s=3, color='k', lw=0, zorder=2)
draw_boxes(axDb, groupsR, [i + 0.7 for i in range(3)], '#8f8f8f', '#666666', 0.11)
axDb.plot([0.53, 0.53, 2.47, 2.47], [13.57, 13.9, 13.9, 13.57], color='#555555', lw=0.8)
axDb.text(1.5, 13.1, r'P = 5 x 10$^{-19}$', ha='center', va='center', fontsize=8)

# ---------------- caption ----------------
CB = {'weight': 'bold'}
SUB = {'dy': 4, 'size_scale': 0.65}
caption = [
    [('Fig. 5', CB), (' Developmental trajectories of CDS 20 (18A/18N) in human cortex in ', {}),
     ('SCN8A', IT), ('. ', {}), ('A', CB), (' Location, genomic coordinates (GRCh38/hg38), and amino', {})],
    [('acid sequence of the 18A and 18N exons in ', {}), ('SCN8A', IT), ('. ', {}), ('B', CB),
     (' Sashimi plot of intron splicing in prenatal (top, ', {}), ('N', IT),
     (' = 112 samples) and postnatal (bottom, ', {}), ('N', IT)],
    [('= 60 samples) dorsolateral prefrontal cortex. Linewidth reflects the proportion of split reads '
      'observed for each intron compared to all split reads', {})],
    [('between the exon before and after, this value is also shown as a percentage. Introns related '
      'to 18A exon inclusion are shown in green, those', {})],
    [('related to 18N exon inclusion are shown in purple, and others are in grey. ', {}), ('C', CB),
     (' Expression of the 18A (green) and 18N (purple) for 176 BrainVar', {})],
    [('human dorsolateral prefrontal cortex samples across development (points). On the left, the '
      'colored line shows the Loess smoothed average with', {})],
    [('the shaded area showing the 95% confidence interval. On the right, boxplots show the median '
      'and interquartile range for the same data, binned', {})],
    [('into fetal, transitional, and mature developmental stages. ', {}), ('D', CB),
     (' The 18A:18N ratio is shown for each sample from panel ', {}), ('C', CB),
     (' across development (left)', {})],
    [('and binned into three groups (right). CPM: Counts per million; Statistical analyses: ', {}),
     ('B', CB), (' Dirichlet-multinomial generalized linear model, as', {})],
    [('implemented in Leafcutter [', {}), ('41', {'color': '#2a5db0'}), ('].  ', {}), ('D', CB),
     (' Left panel, linear regression of log', {}), ('2', SUB), ('(18A:18N ratio) and log', {}),
     ('2', SUB), ('(post-conceptual days). Right panel, two-tailed', {})],
    [('Wilcoxon test of log', {}), ('2', SUB), ('(18A:18N ratio) values between fetal and mature groups', {})],
]
base_fs = 12.0
w1 = sum(measure(s, family=CAPTION_FONT, fontsize=base_fs, **{k: v for k, v in st.items()
                                                               if k not in ('dy', 'size_scale')})
         for s, st in caption[0])
cap_fs = base_fs * 1258 / w1
for li, line in enumerate(caption):
    parts = []
    for s, st in line:
        st = dict(st)
        scale = st.pop('size_scale', 1)
        st['fontsize'] = cap_fs * scale
        parts.append((s, st))
    runs(20, 639 + li * 25.6, parts, family=CAPTION_FONT, color='#222222')

fig.savefig('out.png', dpi=100)
